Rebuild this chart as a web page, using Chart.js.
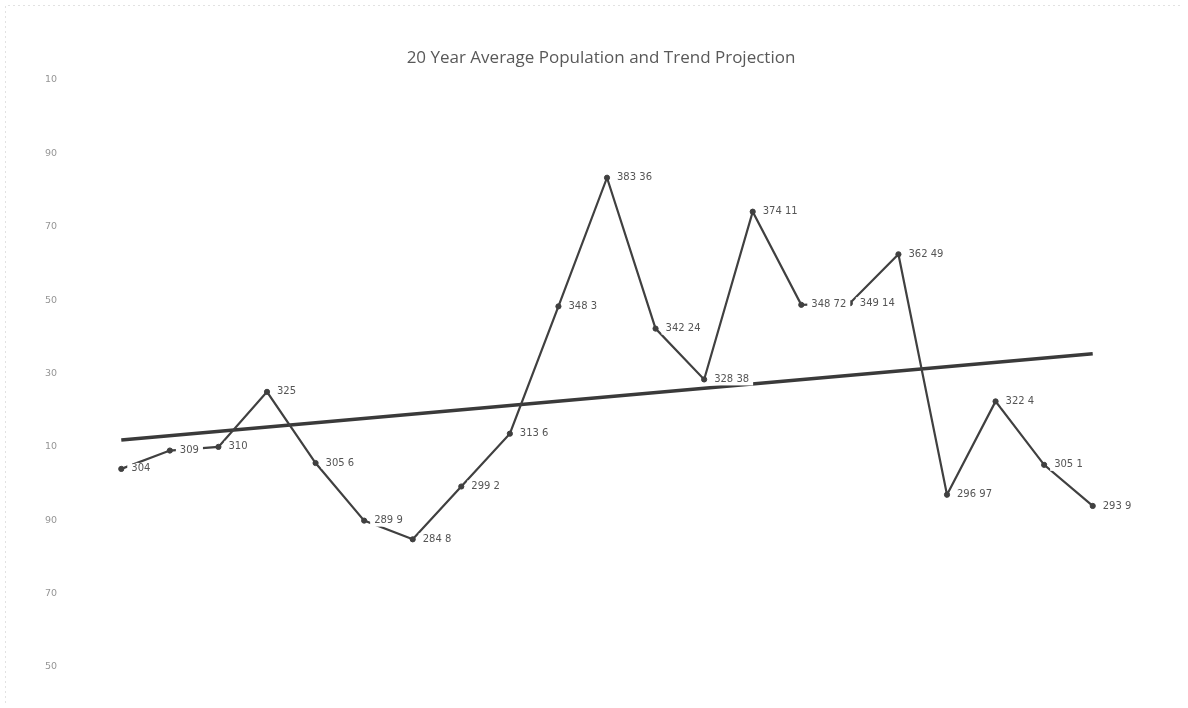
<!DOCTYPE html>
<html>
<head>
<meta charset="utf-8">
<script src="https://cdn.jsdelivr.net/npm/chart.js@4"></script>
<style>
  html, body { margin: 0; padding: 0; background: #fff; }
  #wrap { width: 1188px; height: 708px; position: relative; }
</style>
</head>
<body>
<div id="wrap"><canvas id="c"></canvas></div>
<script>
// ---- data ----
const categories = ["1","2","3","4","5","6","7","8","9","10","11","12","13","14","15","16","17","18","19","20","21"];
const population = [304, 309, 310, 325, 305.6, 289.9, 284.8, 299.2, 313.6, 348.3, 383.36, 342.24, 328.38, 374.11, 348.72, 349.14, 362.49, 296.97, 322.4, 305.1, 293.9];
const trendEnds = [311.9, 335.4];           // trend line value at first and last category
const yTicks = [250, 270, 290, 310, 330, 350, 370, 390, 410];
const titleText = "20 Year Average Population and Trend Projection";

const trendData = categories.map((c, i) => i === 0 ? trendEnds[0] : (i === categories.length - 1 ? trendEnds[1] : null));

const frame = {
  id: 'frame',
  beforeDraw(chart) {
    const ctx = chart.ctx;
    ctx.save();
    ctx.fillStyle = '#fff';
    ctx.fillRect(0, 0, chart.width, chart.height);
    ctx.strokeStyle = '#e2e2e2';
    ctx.lineWidth = 1;
    ctx.setLineDash([2, 3]);
    ctx.beginPath();
    ctx.moveTo(5.5, chart.height - 5);
    ctx.lineTo(5.5, 5.5);
    ctx.lineTo(chart.width - 5, 5.5);
    ctx.stroke();
    ctx.restore();
  }
};

const titleDraw = {
  id: 'titleDraw',
  afterDraw(chart) {
    const ctx = chart.ctx;
    ctx.save();
    ctx.font = '17px "Open Sans"';
    ctx.fillStyle = '#595959';
    ctx.textAlign = 'center';
    ctx.textBaseline = 'middle';
    ctx.fillText(titleText, 601, 58);
    ctx.restore();
  }
};

const valueLabels = {
  id: 'valueLabels',
  afterDatasetsDraw(chart) {
    const ctx = chart.ctx;
    const meta = chart.getDatasetMeta(0);
    ctx.save();
    ctx.font = '10px "DejaVu Sans"';
    ctx.textBaseline = 'middle';
    ctx.textAlign = 'left';
    meta.data.forEach((pt, i) => {
      const txt = String(population[i]).replace('.', ' ');
      const x = pt.x + 10, y = pt.y;
      const w = ctx.measureText(txt).width;
      ctx.fillStyle = '#fff';
      ctx.fillRect(x - 4, y - 6, w + 8, 12);
      ctx.fillStyle = '#555';
      ctx.fillText(txt, x, y);
    });
    ctx.restore();
  }
};

new Chart(document.getElementById('c'), {
  type: 'line',
  data: {
    labels: categories,
    datasets: [
      {
        label: 'Population',
        data: population,
        borderColor: '#404040',
        backgroundColor: '#404040',
        borderWidth: 2.2,
        pointRadius: 2.6,
        pointStyle: 'circle',
        pointBorderWidth: 1,
        tension: 0,
        order: 1
      },
      {
        label: 'Trend',
        data: trendData,
        spanGaps: true,
        borderColor: '#3a3a3a',
        borderWidth: 3.5,
        pointRadius: 0,
        tension: 0,
        order: 2
      }
    ]
  },
  options: {
    responsive: true,
    maintainAspectRatio: false,
    animation: false,
    layout: { padding: { left: 0, right: 71, top: 80, bottom: 41 } },
    plugins: {
      legend: { display: false },
      tooltip: { enabled: false },
      title: { display: false }
    },
    scales: {
      x: {
        display: false,
        offset: true
      },
      y: {
        min: 250,
        max: 410,
        afterFit(scale) { scale.width = 97; },
        afterBuildTicks(scale) { scale.ticks = yTicks.map(v => ({ value: v })); },
        grid: { display: false },
        border: { display: false },
        ticks: {
          padding: 32,
          color: '#959595',
          font: { family: '"DejaVu Sans"', size: 9.5 },
          callback: v => String(v).slice(-2)
        }
      }
    }
  },
  plugins: [frame, valueLabels, titleDraw]
});
</script>
</body>
</html>
